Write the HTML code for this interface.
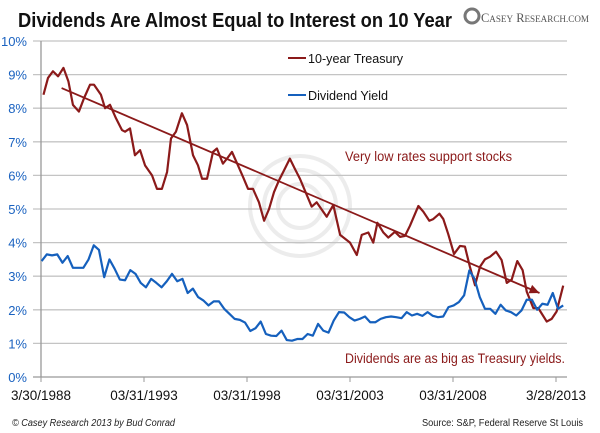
<!DOCTYPE html>
<html><head><meta charset="utf-8"><style>
body{margin:0;background:#fff;width:600px;height:433px;overflow:hidden;font-family:"Liberation Sans",sans-serif}
svg{display:block}
</style></head><body>
<svg id="chart" width="600" height="433" viewBox="0 0 600 433" xmlns="http://www.w3.org/2000/svg">
<text x="18" y="27" font-size="20.5" font-weight="bold" fill="#111" textLength="434" lengthAdjust="spacingAndGlyphs">Dividends Are Almost Equal to Interest on 10 Year</text>
<g>
<circle cx="472" cy="16" r="7" fill="none" stroke="#777" stroke-width="3"/>
<text x="481" y="22" font-family="Liberation Serif,serif" font-size="13" fill="#555" textLength="108" lengthAdjust="spacingAndGlyphs">C<tspan font-size="9.5">ASEY</tspan> R<tspan font-size="9.5">ESEARCH.COM</tspan></text>
</g>
<g fill="none" stroke="#ececec" stroke-width="4">
<circle cx="300" cy="206" r="50"/><circle cx="300" cy="206" r="36"/><circle cx="300" cy="206" r="22"/>
</g>
<g id="grid"></g>
<g id="series"></g>
<g>
<line x1="288" y1="58" x2="306" y2="58" stroke="#8b1a1a" stroke-width="2"/>
<text x="308" y="63" font-size="13" fill="#111" textLength="95" lengthAdjust="spacingAndGlyphs">10-year Treasury</text>
<line x1="288" y1="95" x2="306" y2="95" stroke="#1560bd" stroke-width="2"/>
<text x="308" y="100" font-size="13" fill="#111" textLength="80" lengthAdjust="spacingAndGlyphs">Dividend Yield</text>
</g>
<text x="345" y="161" font-size="13.5" fill="#8b1a1a" textLength="167" lengthAdjust="spacingAndGlyphs">Very low rates support stocks</text>
<text x="345" y="363" font-size="13.5" fill="#8b1a1a" textLength="220" lengthAdjust="spacingAndGlyphs">Dividends are as big as Treasury yields.</text>
<text x="12" y="426" font-size="10" font-style="italic" fill="#222" textLength="163" lengthAdjust="spacingAndGlyphs">© Casey Research 2013 by Bud Conrad</text>
<text x="422" y="426" font-size="10" fill="#222" textLength="161" lengthAdjust="spacingAndGlyphs">Source: S&amp;P, Federal Reserve St Louis</text>
</svg>
<script>
const yTicks=[0,1,2,3,4,5,6,7,8,9,10];
const xTickYears=[1988.25,1993.25,1998.25,2003.25,2008.25,2013.25];
const xTickLabels=["3/30/1988","03/31/1993","03/31/1998","03/31/2003","03/31/2008","3/28/2013"];
const treasuryDates=[1988.37,1988.59,1988.83,1989.08,1989.34,1989.58,1989.80,1990.09,1990.34,1990.63,1990.82,1991.16,1991.36,1991.60,1991.89,1992.18,1992.33,1992.57,1992.81,1993.06,1993.30,1993.64,1993.88,1994.12,1994.37,1994.56,1994.80,1995.09,1995.34,1995.63,1995.87,1996.07,1996.31,1996.60,1996.79,1997.08,1997.28,1997.52,1997.81,1998.06,1998.30,1998.54,1998.83,1999.08,1999.32,1999.56,1999.80,2000.09,2000.33,2000.57,2000.82,2001.39,2001.63,2002.12,2002.44,2002.77,2003.25,2003.58,2003.82,2004.14,2004.38,2004.58,2004.87,2005.11,2005.43,2005.68,2005.92,2006.16,2006.57,2006.81,2007.10,2007.29,2007.59,2007.78,2008.02,2008.30,2008.59,2008.83,2009.07,2009.32,2009.56,2009.80,2010.05,2010.34,2010.61,2010.86,2011.10,2011.37,2011.63,2011.83,2012.15,2012.39,2012.80,2013.04,2013.28,2013.60];
const treasuryValues=[8.4,8.9,9.1,8.95,9.2,8.8,8.1,7.9,8.3,8.7,8.7,8.4,8.0,8.1,7.7,7.35,7.3,7.4,6.6,6.75,6.3,6.0,5.6,5.6,6.1,7.1,7.3,7.85,7.5,6.6,6.3,5.9,5.9,6.7,6.8,6.35,6.5,6.7,6.3,5.95,5.6,5.6,5.2,4.65,5.0,5.5,5.85,6.2,6.5,6.2,5.9,5.07,5.2,4.77,5.12,4.23,4.0,3.63,4.23,4.3,4.0,4.59,4.3,4.15,4.32,4.17,4.2,4.5,5.09,4.92,4.65,4.7,4.86,4.7,4.25,3.66,3.9,3.88,3.28,2.73,3.28,3.5,3.58,3.73,3.48,2.8,2.9,3.45,3.18,2.54,2.05,2.05,1.65,1.73,1.95,2.72];
const dividendValues=[3.45,3.65,3.62,3.65,3.4,3.6,3.25,3.25,3.25,3.5,3.92,3.78,2.97,3.5,3.22,2.9,2.88,3.18,3.07,2.8,2.67,2.92,2.8,2.67,2.85,3.07,2.85,2.92,2.5,2.63,2.38,2.28,2.13,2.25,2.25,2.03,1.88,1.73,1.7,1.62,1.37,1.45,1.65,1.28,1.23,1.22,1.38,1.1,1.08,1.13,1.13,1.28,1.23,1.58,1.38,1.32,1.68,1.93,1.92,1.78,1.68,1.73,1.8,1.63,1.63,1.73,1.78,1.8,1.78,1.75,1.93,1.83,1.88,1.82,1.93,1.82,1.78,1.8,2.08,2.13,2.23,2.43,3.17,2.92,2.38,2.03,2.03,1.88,2.15,1.98,1.93,1.83,1.98,2.3,2.3,2.0,2.18,2.15,2.5,2.03,2.13];
const dividendStart=1988.28, dividendEnd=2013.6;
const trendStart=[1989.25,8.6], trendEnd=[2012.45,2.5];

const NS="http://www.w3.org/2000/svg";
const X0=41, PXY=20.6, Y0=377, PXV=33.6;
const xs=t=>X0+(t-1988.25)*PXY;
const ys=v=>Y0-v*PXV;
function mk(tag,attrs,parent){const e=document.createElementNS(NS,tag);for(const k in attrs)e.setAttribute(k,attrs[k]);parent.appendChild(e);return e;}
const grid=document.getElementById('grid'), ser=document.getElementById('series');
yTicks.forEach(v=>{
  const l=mk('line',{x1:33,x2:567,y1:ys(v),y2:ys(v),stroke:v===0?'#999':'#c4c4c4','stroke-width':1.3},grid);
  
  
  const t=mk('text',{x:27,y:ys(v)+5,'text-anchor':'end','font-size':13,fill:'#1a62c0'},grid);
  t.textContent=v+'%';
  
  
});
const ax=mk('line',{x1:X0,x2:X0,y1:ys(10),y2:ys(0),stroke:'#999','stroke-width':1.3},grid);


xTickYears.forEach((t,i)=>{
  const tk=mk('line',{x1:xs(t),x2:xs(t),y1:Y0,y2:Y0+5,stroke:'#999'},grid);
  
  
  const tx=mk('text',{x:xs(t),y:Y0+23,'text-anchor':'middle','font-size':13.5,fill:'#111'},grid);
  tx.textContent=xTickLabels[i];
  
  
});
const tp=mk('polyline',{points:treasuryDates.map((d,i)=>xs(d)+','+ys(treasuryValues[i])).join(' '),fill:'none',stroke:'#8b1a1a','stroke-width':2.2,'stroke-linejoin':'round'},ser);


const n=dividendValues.length, step=(dividendEnd-dividendStart)/(n-1);
const dp=mk('polyline',{points:dividendValues.map((v,i)=>xs(dividendStart+i*step)+','+ys(v)).join(' '),fill:'none',stroke:'#1560bd','stroke-width':2.2,'stroke-linejoin':'round'},ser);


const x1=xs(trendStart[0]),y1=ys(trendStart[1]),x2=xs(trendEnd[0]),y2=ys(trendEnd[1]);
const tl=mk('line',{x1:x1,y1:y1,x2:x2,y2:y2,stroke:'#8b1a1a','stroke-width':1.8},ser);


const a=Math.atan2(y2-y1,x2-x1),L=10,W=4.5;
const p1=[x2-L*Math.cos(a)+W*Math.sin(a),y2-L*Math.sin(a)-W*Math.cos(a)],p2=[x2-L*Math.cos(a)-W*Math.sin(a),y2-L*Math.sin(a)+W*Math.cos(a)];
const ah=mk('polygon',{points:`${x2},${y2} ${p1} ${p2}`,fill:'#8b1a1a'},ser);


</script>
</body></html>
